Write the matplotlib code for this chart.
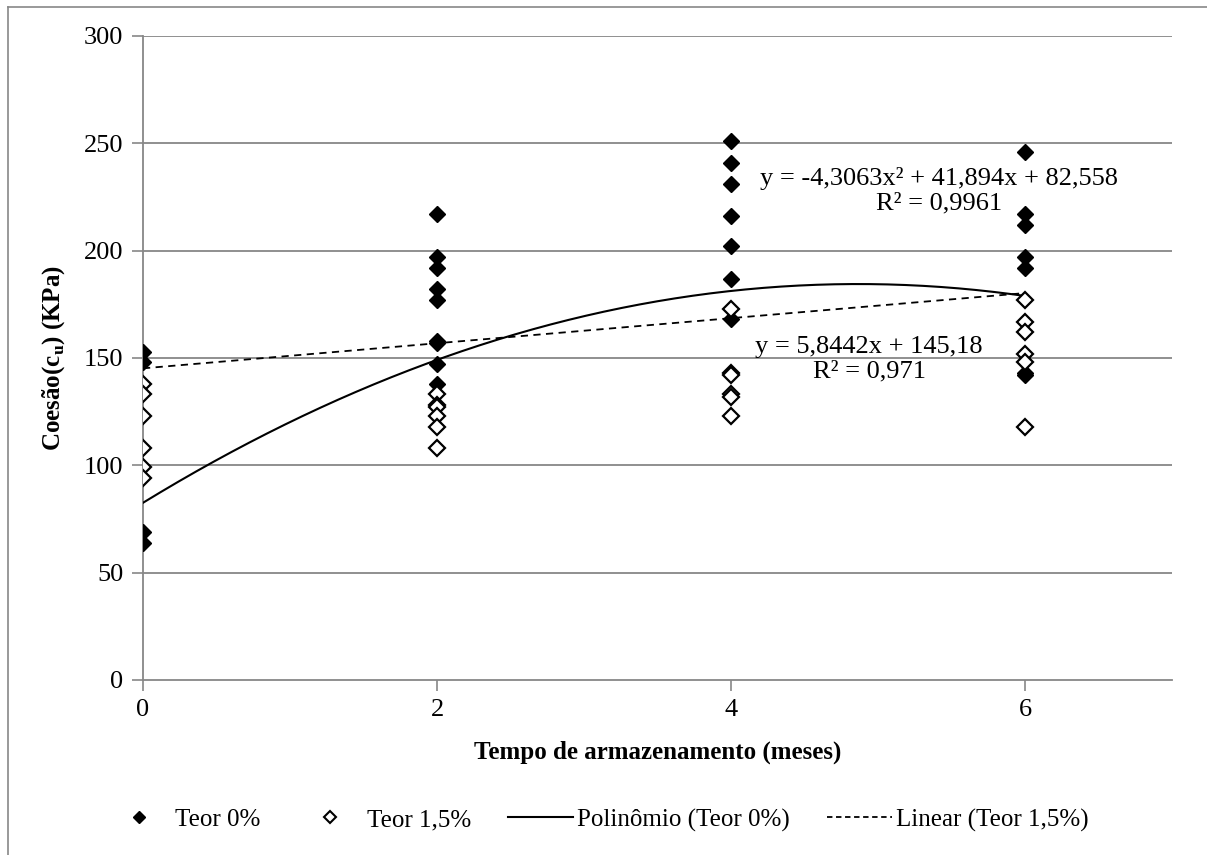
import matplotlib
matplotlib.use("Agg")
import matplotlib.pyplot as plt
import numpy as np
from matplotlib.lines import Line2D

plt.rcParams['font.family'] = ['Liberation Serif', 'DejaVu Serif']
plt.rcParams['mathtext.fontset'] = 'custom'
plt.rcParams['mathtext.rm'] = 'Liberation Serif'
plt.rcParams['mathtext.bf'] = 'Liberation Serif:bold'

# ---- data ----
months = [0, 2, 4, 6]
teor0 = {
    0: [153, 148, 69, 64],
    2: [217, 197, 192, 182, 177, 158, 157, 147, 138],
    4: [251, 241, 231, 216, 202, 187, 168],
    6: [246, 217, 212, 197, 192, 143, 142],
}
teor15 = {
    0: [138, 133, 123, 108, 99, 94],
    2: [133, 128, 127, 123, 118, 108],
    4: [173, 143, 142, 133, 132, 123],
    6: [177, 167, 162, 152, 148, 118],
}
poly_coef = [-4.3063, 41.894, 82.558]
lin_coef = [5.8442, 145.18]
poly_label = "y = -4,3063x² + 41,894x + 82,558\nR² = 0,9961"
lin_label = "y = 5,8442x + 145,18\nR² = 0,971"
yticks = [0, 50, 100, 150, 200, 250, 300]
xticks = [0, 2, 4, 6]

W, H = 1207, 855
fig = plt.figure(figsize=(W / 100, H / 100), dpi=100)
ax = fig.add_axes([143 / W, 1 - 680 / H, (1172 - 143) / W, (680 - 36) / H])

grid_c = '#878787'
for v in yticks[1:]:
    ax.axhline(v, color=grid_c, lw=1.3, zorder=1)

# trend lines
xs = np.linspace(0, 6, 200)
ax.plot(xs, np.polyval(poly_coef, xs), color='black', lw=1.5, zorder=3)
ax.plot(xs, np.polyval(lin_coef, xs), color='black', lw=1.3, ls=(0, (4, 3)), zorder=3)

# scatter
for m in months:
    ax.plot([m] * len(teor0[m]), teor0[m], ls='none', marker='D', ms=8.5,
            mfc='black', mec='black', zorder=4)
    ax.plot([m] * len(teor15[m]), teor15[m], ls='none', marker='D', ms=8,
            mfc='white', mec='black', mew=1.6, zorder=5)

ax.text(5.415, 228.0, poly_label, ha='center', va='center', multialignment='center',
        fontsize=19, linespacing=1.15, zorder=6)
ax.text(4.939, 149.6, lin_label, ha='center', va='center', multialignment='center',
        fontsize=19, linespacing=1.15, zorder=6)

ax.set_xlim(0, 7)
ax.set_ylim(0, 300)
ax.set_xticks(xticks)
ax.set_yticks(yticks)
ax.tick_params(axis='both', direction='out', length=8, width=1.2, color=grid_c,
               labelsize=19, pad=6)
for s in ['top', 'right']:
    ax.spines[s].set_visible(False)
for s in ['left', 'bottom']:
    ax.spines[s].set_color(grid_c)
    ax.spines[s].set_linewidth(1.3)
ax.set_facecolor('none')

ax.set_xlabel('Tempo de armazenamento (meses)', fontsize=18, fontweight='bold', labelpad=14)
ax.set_ylabel(r'Coesão(c$_{\mathbf{u}}$) (KPa)', fontsize=18, fontweight='bold', labelpad=12)

handles = [
    Line2D([], [], ls='none', marker='D', ms=6, mfc='black', mec='black'),
    Line2D([], [], ls='none', marker='D', ms=6, mfc='white', mec='black', mew=1.5),
    Line2D([], [], color='black', lw=1.5),
    Line2D([], [], color='black', lw=1.3, ls=(0, (3, 2))),
]
labels = ['Teor 0%', 'Teor 1,5%', 'Polinômio (Teor 0%)', 'Linear (Teor 1,5%)']
fig.legend(handles, labels, loc='center', bbox_to_anchor=(0.495, 1 - 820 / H), ncol=4,
           frameon=False, fontsize=18, handlelength=2.6, columnspacing=1.5,
           handletextpad=0.15)

# outer frame lines (top and left) of the chart area
fig.add_artist(Line2D([8 / W, 8 / W], [0, 1 - 7 / H], transform=fig.transFigure,
                      color=grid_c, lw=1.2))
fig.add_artist(Line2D([8 / W, 1], [1 - 7 / H, 1 - 7 / H], transform=fig.transFigure,
                      color=grid_c, lw=1.2))

fig.savefig('out.png', dpi=100)
